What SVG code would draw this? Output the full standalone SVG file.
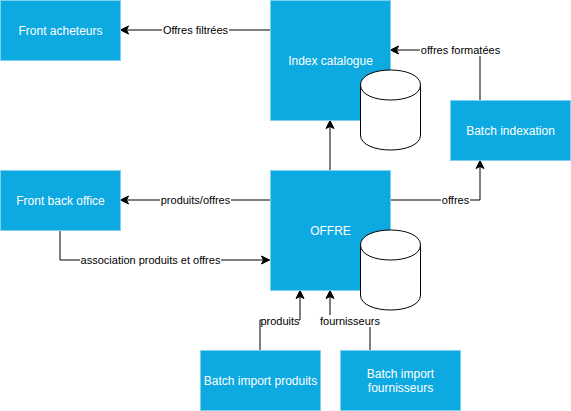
<svg xmlns="http://www.w3.org/2000/svg" width="571" height="411" viewBox="0 0 571 411">
<style>
.box{fill:#0da9e1;stroke:#7fd1f2;stroke-width:1}
.nt{font-family:"Liberation Sans",Arial,sans-serif;font-size:12px;fill:#fff;text-anchor:middle;dominant-baseline:central}
.lt{font-family:"Liberation Sans",Arial,sans-serif;font-size:11px;fill:#000;text-anchor:middle;dominant-baseline:central}
.cyl{fill:#fff;stroke:#000;stroke-width:1}
.edge{fill:none;stroke:#000;stroke-width:1;marker-end:url(#arr)}
.lbg{fill:#fff}
</style>
<defs>
<marker id="arr" markerUnits="userSpaceOnUse" markerWidth="10" markerHeight="10" refX="8" refY="4" orient="auto" overflow="visible">
<path d="M0,0 L8,4 L0,8 L2,4 Z" fill="#000" stroke="#000" stroke-width="1"/>
</marker>
</defs>
<g id="connectors">
<path class="edge" d="M270,30 L120.5,30"/>
<rect class="lbg" x="162" y="24" width="67" height="12"/>
<text class="lt" x="195.5" y="30">Offres filtrées</text>

<path class="edge" d="M480,100 L480,50 L390.5,50"/>
<rect class="lbg" x="420" y="44" width="81" height="12"/>
<text class="lt" x="460.5" y="50">offres formatées</text>

<path class="edge" d="M330,170 L330,120.5"/>

<path class="edge" d="M270,200 L120.5,200"/>
<rect class="lbg" x="160" y="194" width="71" height="12"/>
<text class="lt" x="195.5" y="200">produits/offres</text>

<path class="edge" d="M60,230 L60,260 L269.5,260"/>
<rect class="lbg" x="80" y="254" width="141" height="12"/>
<text class="lt" x="150.5" y="260">association produits et offres</text>

<path class="edge" d="M390,200 L480,200 L480,160.5"/>
<rect class="lbg" x="441" y="194" width="29" height="12"/>
<text class="lt" x="455.5" y="200">offres</text>

<path class="edge" d="M260,350 L260,320 L300,320 L300,290.5"/>
<rect class="lbg" x="261" y="315" width="38" height="12"/>
<text class="lt" x="280" y="321">produits</text>

<path class="edge" d="M370,350 L370,320 L330,320 L330,290.5"/>
<rect class="lbg" x="320" y="315" width="60" height="12"/>
<text class="lt" x="350" y="321">fournisseurs</text>
</g>
<g id="front-acheteurs">
<rect class="box" x="0.5" y="0.5" width="120" height="60"/>
<text class="nt" x="60.5" y="30.5">Front acheteurs</text>
</g>
<g id="index-catalogue">
<rect class="box" x="270.5" y="0.5" width="120" height="120"/>
<text class="nt" x="330.5" y="61">Index catalogue</text>
</g>
<g id="index-db">
<path class="cyl" d="M360.5,85 C360.5,65 420.5,65 420.5,85 L420.5,135 C420.5,155 360.5,155 360.5,135 Z"/>
<path class="cyl" fill="none" d="M360.5,85 C360.5,105 420.5,105 420.5,85"/>
</g>
<g id="batch-indexation">
<rect class="box" x="450.5" y="100.5" width="120" height="60"/>
<text class="nt" x="510.5" y="130.5">Batch indexation</text>
</g>
<g id="front-back-office">
<rect class="box" x="0.5" y="170.5" width="120" height="60"/>
<text class="nt" x="60.5" y="200.5">Front back office</text>
</g>
<g id="offre">
<rect class="box" x="270.5" y="170.5" width="120" height="120"/>
<text class="nt" x="330.5" y="231">OFFRE</text>
</g>
<g id="offre-db">
<path class="cyl" d="M360.5,245 C360.5,225 420.5,225 420.5,245 L420.5,295 C420.5,315 360.5,315 360.5,295 Z"/>
<path class="cyl" fill="none" d="M360.5,245 C360.5,265 420.5,265 420.5,245"/>
</g>
<g id="batch-import-produits">
<rect class="box" x="200.5" y="350.5" width="120" height="60"/>
<text class="nt" x="260.5" y="380.5">Batch import produits</text>
</g>
<g id="batch-import-fournisseurs">
<rect class="box" x="340.5" y="350.5" width="120" height="60"/>
<text class="nt" x="400.5" y="373.5">Batch import</text>
<text class="nt" x="400.5" y="387.5">fournisseurs</text>
</g>
</svg>
